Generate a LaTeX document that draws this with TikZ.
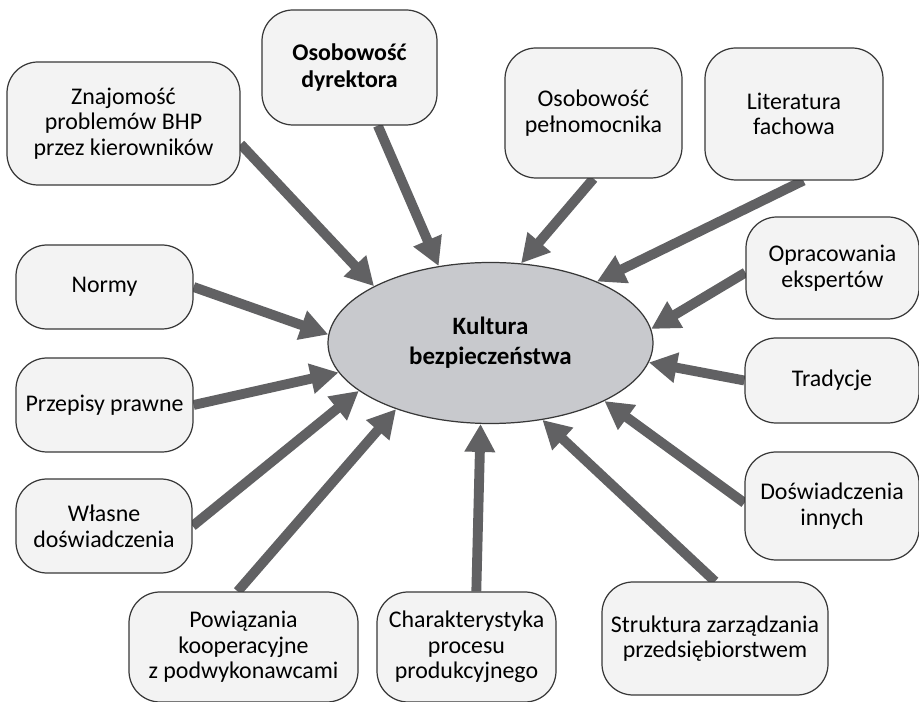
\documentclass[tikz,border=0pt]{standalone}
\usepackage{fontspec}
\setmainfont{Carlito}
\usetikzlibrary{arrows.meta, shapes.geometric, backgrounds}

\definecolor{arrgray}{RGB}{97,97,99}
\definecolor{ellgray}{RGB}{200,201,205}
\definecolor{boxfill}{RGB}{243,243,243}
\definecolor{boxline}{RGB}{56,56,56}

\begin{document}
\begin{tikzpicture}[
      box/.style={draw=boxline, fill=boxfill, line width=0.7pt, rounded corners=0.62cm,
                  align=center, inner sep=2pt, font=\fontsize{13.6}{14.6}\selectfont},
      core/.style={ellipse, draw=boxline, fill=ellgray, line width=0.7pt, align=center,
                   inner sep=0pt, font=\fontsize{14.2}{17}\selectfont\bfseries},
      arr/.style={-{Triangle[length=0.56cm, width=0.58cm]}, line width=5.6pt, arrgray}]

    \useasboundingbox (0,0) rectangle (18.38,-14.04);

    % ============================
    % CENTRE
    % ============================
    \node[core, minimum width=6.5cm, minimum height=3.22cm] (kb) at (9.81,-6.86)
      {Kultura\\bezpieczeństwa};

    % ============================
    % FACTORS (clockwise from top left)
    % ============================
    \node[box, minimum width=4.66cm, minimum height=2.46cm] (znaj) at (2.47,-2.47)
      {Znajomość\\problemów BHP\\przez kierowników};
    \node[box, minimum width=3.5cm, minimum height=2.3cm, font=\fontsize{13.6}{15.5}\selectfont\bfseries]
      (dyr) at (6.99,-1.35) {Osobowość\\dyrektora};
    \node[box, minimum width=3.54cm, minimum height=2.6cm] (peln) at (11.87,-2.26)
      {Osobowość\\pełnomocnika};
    \node[box, minimum width=3.56cm, minimum height=2.64cm] (lit) at (15.88,-2.28)
      {Literatura\\fachowa};
    \node[box, minimum width=3.46cm, minimum height=2.04cm] (opr) at (16.65,-5.36)
      {Opracowania\\ekspertów};
    \node[box, minimum width=3.48cm, minimum height=1.7cm] (trad) at (16.64,-7.61)
      {Tradycje};
    \node[box, minimum width=3.48cm, minimum height=2.16cm] (dinn) at (16.64,-10.12)
      {Doświadczenia\\innych};
    \node[box, minimum width=4.52cm, minimum height=2.26cm] (strk) at (14.3,-12.77)
      {Struktura zarządzania\\przedsiębiorstwem};
    \node[box, minimum width=3.58cm, minimum height=2.2cm] (char) at (9.33,-12.94)
      {Charakterystyka\\procesu\\produkcyjnego};
    \node[box, minimum width=4.58cm, minimum height=2.2cm] (pow) at (4.87,-12.94)
      {Powiązania\\kooperacyjne\\z podwykonawcami};
    \node[box, minimum width=3.52cm, minimum height=1.88cm] (wlas) at (2.08,-10.52)
      {Własne\\doświadczenia};
    \node[box, minimum width=3.54cm, minimum height=1.88cm] (prz) at (2.09,-8.1)
      {Przepisy prawne};
    \node[box, minimum width=3.54cm, minimum height=1.68cm] (norm) at (2.09,-5.74)
      {Normy};

    % ============================
    % ARROWS into the centre (behind the boxes)
    % ============================
    \begin{scope}[on background layer]
    \draw[arr] (znaj.350)    -- (kb.154);
    \draw[arr] (dyr.296)     -- (kb.124);
    \draw[arr] (peln.south)  -- (kb.69);
    \draw[arr] (lit.278)     -- (kb.30);
    \draw[arr] (opr.183)     -- (kb.5);
    \draw[arr] (trad.west)   -- (kb.353);
    \draw[arr] (dinn.178)    -- (kb.333);
    \draw[arr] (strk.north)  -- (kb.304);
    \draw[arr] (char.80)     -- (kb.263);
    \draw[arr] (pow.96)      -- (kb.215);
    \draw[arr] (wlas.east)   -- (kb.200);
    \draw[arr] (prz.east)    -- (kb.191);
    \draw[arr] (norm.east)   -- (kb.177);
    \end{scope}

\end{tikzpicture}
\end{document}
